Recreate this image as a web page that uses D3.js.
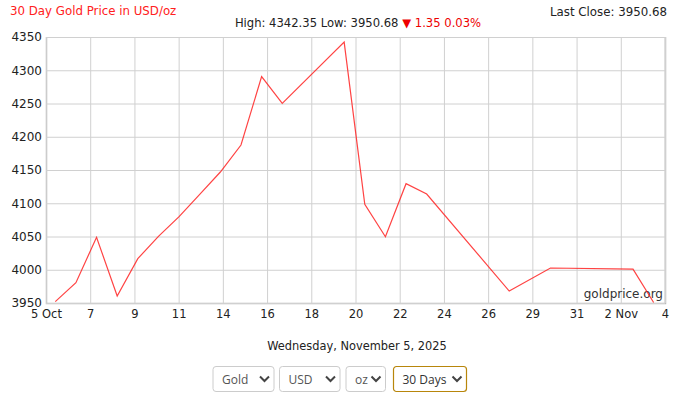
<!DOCTYPE html>
<html>
<head>
<meta charset="utf-8">
<script src="https://cdn.jsdelivr.net/npm/d3@7"></script>
<style>
  body { margin: 0; background: #fff; }
  svg { display: block; }
</style>
</head>
<body>
<div id="chart"></div>
<script>
// 30 day gold price, USD per ounce
var dates = [
  "2025-10-05T10:48", "2025-10-06T10:48", "2025-10-07T10:48", "2025-10-08T10:48",
  "2025-10-09T10:48", "2025-10-10T10:48", "2025-10-11T10:48", "2025-10-12T10:48",
  "2025-10-13T10:48", "2025-10-14T10:48", "2025-10-15T10:48", "2025-10-16T10:48",
  "2025-10-19T10:48", "2025-10-20T10:48", "2025-10-21T10:48", "2025-10-22T10:48",
  "2025-10-23T10:48", "2025-10-27T10:48", "2025-10-29T10:48", "2025-11-02T10:48",
  "2025-11-03T10:48"
];
var prices = [
  3952.0, 3980.5, 4048.8, 3960.5,
  4016.7, 4050.3, 4079.8, 4113.4,
  4147.0, 4187.6, 4290.4, 4250.2,
  4342.35, 4098.4, 4049.7, 4129.4,
  4113.9, 3968.0, 4002.6, 4001.0,
  3950.68
];
var xTickLabels = ["5 Oct", "7", "9", "11", "14", "16", "18", "20", "22", "24", "26", "29", "31", "2 Nov", "4"];
var changeAbs = "1.35";
var changePct = "0.03%";
var dropdowns = ["Gold", "USD", "oz", "30 Days"];

var width = 697, height = 408;
var margin = { top: 37, right: 32, bottom: 105, left: 46 };

var parse = d3.utcParse("%Y-%m-%dT%H:%M");
var data = dates.map(function (d, i) { return { date: parse(d), price: prices[i] }; });

var start = Date.UTC(2025, 9, 5), end = Date.UTC(2025, 10, 4);

var svg = d3.select("#chart").append("svg")
  .attr("width", width)
  .attr("height", height)
  .style("font-family", "'DejaVu Sans', Verdana, sans-serif");

var x = d3.scaleUtc()
  .domain([new Date(start), new Date(end)])
  .range([margin.left, width - margin.right]);

var y = d3.scaleLinear()
  .domain([3950, 4350])
  .range([height - margin.bottom, margin.top]);

var xTicks = xTickLabels.map(function (l, i) {
  return new Date(start + i * (end - start) / (xTickLabels.length - 1));
});

// grid
svg.append("g")
  .attr("transform", "translate(0," + (height - margin.bottom) + ")")
  .call(d3.axisBottom(x).tickValues(xTicks)
    .tickSize(-(height - margin.bottom - margin.top))
    .tickFormat(function (d, i) { return xTickLabels[i]; }))
  .call(function (g) {
    g.select(".domain").attr("stroke", "#bbb").attr("stroke-width", 1.5);
    g.selectAll(".tick line").attr("stroke", "#d0d0d0");
    g.selectAll(".tick text").attr("fill", "#222").attr("font-size", 11.5)
      .attr("font-family", "'DejaVu Sans', Verdana, sans-serif").attr("dy", "1.05em");
  });

svg.append("g")
  .attr("transform", "translate(" + margin.left + ",0)")
  .call(d3.axisLeft(y).ticks(8)
    .tickSize(-(width - margin.left - margin.right))
    .tickPadding(4)
    .tickFormat(d3.format("d")))
  .call(function (g) {
    g.select(".domain").attr("stroke", "#ccc");
    g.selectAll(".tick line").attr("stroke", "#d0d0d0");
    g.selectAll(".tick text").attr("fill", "#222").attr("font-size", 12)
      .attr("font-family", "'DejaVu Sans', Verdana, sans-serif");
  });

// right border
svg.append("line")
  .attr("x1", width - margin.right).attr("x2", width - margin.right)
  .attr("y1", margin.top).attr("y2", height - margin.bottom)
  .attr("stroke", "#d0d0d0");

svg.append("text")
  .attr("x", width - margin.right - 2)
  .attr("y", height - margin.bottom - 5)
  .attr("text-anchor", "end")
  .attr("font-size", 12)
  .attr("fill", "#333")
  .text("goldprice.org");

var line = d3.line()
  .x(function (d) { return x(d.date); })
  .y(function (d) { return y(d.price); });

svg.append("path")
  .datum(data)
  .attr("fill", "none")
  .attr("stroke", "#ff2222")
  .attr("stroke-opacity", 0.85)
  .attr("stroke-width", 1.2)
  .attr("d", line);

// header
svg.append("text")
  .attr("x", 10).attr("y", 15)
  .attr("font-size", 11.8)
  .attr("fill", "#ff2020")
  .text("30 Day Gold Price in USD/oz");

svg.append("text")
  .attr("x", width - 30).attr("y", 16)
  .attr("text-anchor", "end")
  .attr("font-size", 11.8)
  .attr("fill", "#222")
  .text("Last Close: " + prices[prices.length - 1].toFixed(2));

var hl = svg.append("text")
  .attr("x", 358).attr("y", 27)
  .attr("text-anchor", "middle")
  .attr("font-size", 11.6)
  .attr("fill", "#222");
hl.append("tspan").text("High: " + d3.max(prices).toFixed(2) + " Low: " + d3.min(prices).toFixed(2) + " ");
hl.append("tspan").attr("fill", "#e00").text("\u25BC " + changeAbs + " " + changePct);

svg.append("text")
  .attr("x", 357).attr("y", 350)
  .attr("text-anchor", "middle")
  .attr("font-size", 11.4)
  .attr("fill", "#222")
  .text("Wednesday, November 5, 2025");

// dropdown boxes
var boxX = [213, 279.5, 346, 393.5];
var boxW = [61, 60.5, 39.5, 73];
var dd = svg.append("g").style("font-family", "'Open Sans', sans-serif");
dropdowns.forEach(function (label, i) {
  var g = dd.append("g").attr("transform", "translate(" + boxX[i] + ",366.5)");
  g.append("rect")
    .attr("width", boxW[i]).attr("height", 25).attr("rx", 3)
    .attr("fill", "#fff")
    .attr("stroke", i === 3 ? "#b8860b" : "#ccc")
    .attr("stroke-width", i === 3 ? 1.2 : 1);
  g.append("text")
    .attr("x", 9).attr("y", 17.5)
    .attr("font-size", 12)
    .attr("fill", i === 3 ? "#333" : "#555")
    .text(label);
  g.append("path")
    .attr("d", "M" + (boxW[i] - 14) + ",10 l4.5,4.5 l4.5,-4.5")
    .attr("fill", "none")
    .attr("stroke", "#444")
    .attr("stroke-width", 2);
});
</script>
</body>
</html>
